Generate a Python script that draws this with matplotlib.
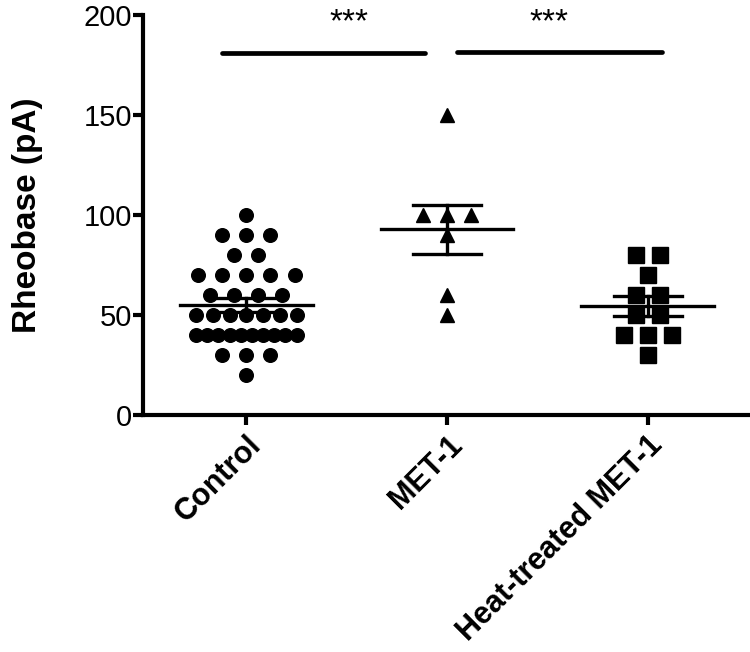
import numpy as np
import matplotlib
matplotlib.use("Agg")
import matplotlib.pyplot as plt

# Rheobase values (pA)
groups = ["Control", "MET-1", "Heat-treated MET-1"]
control = [100, 90, 90, 90, 80, 80, 70, 70, 70, 70, 70,
           60, 60, 60, 60, 50, 50, 50, 50, 50, 50, 50,
           40, 40, 40, 40, 40, 40, 40, 40, 40, 40,
           30, 30, 30, 20]
met1 = [150, 100, 100, 100, 90, 60, 50]
heat_met1 = [80, 80, 70, 60, 60, 50, 50, 40, 40, 40, 30]
markers = ["o", "^", "s"]
marker_sizes = [9.8, 10.5, 11]
stars = ["***", "***"]

plt.rcParams['font.family'] = ['Liberation Sans', 'DejaVu Sans']


def swarm_offsets(values, step=0.12, half_width=0.25):
    # spread points with equal value side by side
    values = np.asarray(values)
    offsets = np.zeros(len(values))
    for v in np.unique(values):
        idx = np.where(values == v)[0]
        k = len(idx)
        if k == 1:
            continue
        sp = min(step, 2 * half_width / (k - 1))
        offsets[idx] = (np.arange(k) - (k - 1) / 2) * sp
    return offsets


def main():
    fig = plt.figure(figsize=(7.5, 6.52), dpi=100)
    ax = fig.add_axes([0.1907, 0.3635, 0.8093, 0.6135])

    data = [control, met1, heat_met1]
    for i, vals in enumerate(data):
        vals = np.asarray(vals, dtype=float)
        xs = i + swarm_offsets(vals)
        ax.plot(xs, vals, linestyle="none", marker=markers[i],
                markersize=marker_sizes[i], color="black", zorder=2)

        # mean and SEM
        m = vals.mean()
        sem = vals.std(ddof=1) / np.sqrt(len(vals))
        ax.plot([i - 0.33, i + 0.33], [m, m], color="black", lw=2.4, zorder=3)
        ax.plot([i - 0.17, i + 0.17], [m + sem, m + sem], color="black", lw=2.4, zorder=3)
        ax.plot([i - 0.17, i + 0.17], [m - sem, m - sem], color="black", lw=2.4, zorder=3)
        ax.plot([i, i], [m - sem, m + sem], color="black", lw=2.4, zorder=3)

    # significance bars
    ax.plot([-0.12, 0.89], [181, 181], color="black", lw=3.4, solid_capstyle="round")
    ax.plot([1.05, 2.07], [181.5, 181.5], color="black", lw=3.4, solid_capstyle="round")
    ax.text(0.51, 196, stars[0], ha="center", va="center", fontsize=24)
    ax.text(1.51, 196, stars[1], ha="center", va="center", fontsize=24)

    ax.set_xlim(-0.515, 2.51)
    ax.set_ylim(0, 200)
    ax.set_yticks([0, 50, 100, 150, 200])
    ax.set_xticks(range(len(groups)))
    ax.set_xticklabels(groups, rotation=45, ha="right", rotation_mode="anchor",
                       fontsize=22, fontweight="bold")
    ax.set_ylabel("Rheobase (pA)", fontsize=24, fontweight="bold", labelpad=29)

    for s in ["top", "right"]:
        ax.spines[s].set_visible(False)
    for s in ["left", "bottom"]:
        ax.spines[s].set_linewidth(3)
    ax.tick_params(axis="both", width=3, length=7, direction="out")
    ax.tick_params(axis="y", labelsize=21, pad=1)
    ax.tick_params(axis="x", pad=4)

    fig.savefig("out.png", dpi=100)


if __name__ == "__main__":
    main()
